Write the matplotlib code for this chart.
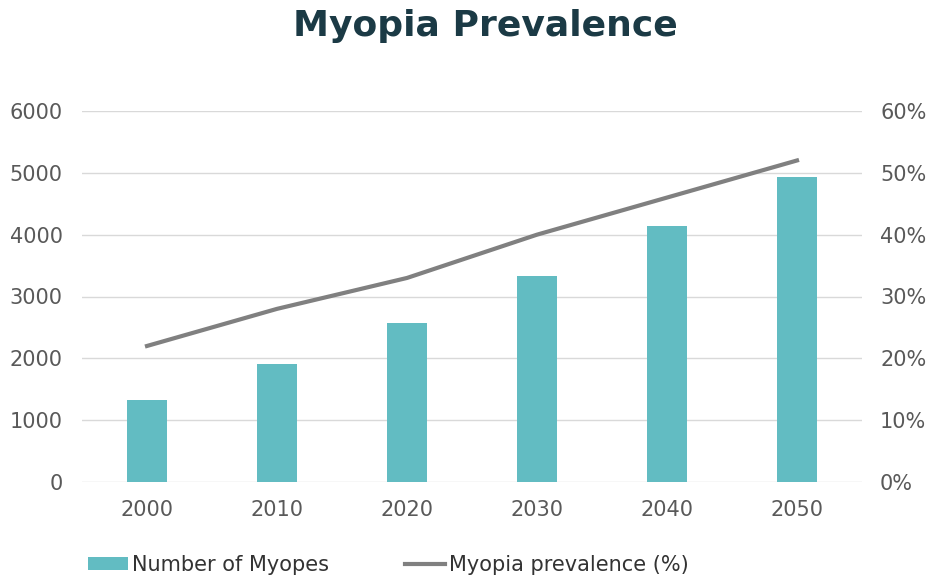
import matplotlib
matplotlib.use("Agg")
import matplotlib.pyplot as plt
from matplotlib.patches import Patch
from matplotlib.lines import Line2D
from matplotlib.ticker import FuncFormatter

years = ["2000", "2010", "2020", "2030", "2040", "2050"]
myopes = [1330, 1905, 2570, 3335, 4145, 4925]
prevalence = [22, 28, 33, 40, 46, 52]
left_ticks = [0, 1000, 2000, 3000, 4000, 5000, 6000]
right_ticks = [0, 10, 20, 30, 40, 50, 60]

bar_color = "#62BCC2"
line_color = "#808080"
tick_color = "#595959"
title_color = "#1B3A45"

plt.rcParams['font.family'] = ['DejaVu Sans']

fig = plt.figure(figsize=(9.34, 5.84), dpi=100)
ax = fig.add_axes([82/934, 1-482/584, (862-82)/934, (482-111)/584])
x = list(range(len(years)))
ax.bar(x, myopes, width=0.31, color=bar_color, zorder=2)
ax.set_xlim(-0.5, len(years)-0.5)
ax.set_ylim(0, 6000)
ax.set_yticks(left_ticks)
ax.set_xticks(x)
ax.set_xticklabels(years)
ax.grid(axis='y', color='#d9d9d9', linewidth=1, zorder=0)
for s in ax.spines.values():
    s.set_visible(False)
ax.tick_params(axis='both', length=0, labelsize=15, colors=tick_color)
ax.tick_params(axis='y', pad=14)
ax.tick_params(axis='x', pad=13)

ax2 = ax.twinx()
ax2.plot(x, prevalence, color=line_color, linewidth=3.0, zorder=3)
ax2.set_ylim(0, 60)
ax2.set_yticks(right_ticks)
ax2.yaxis.set_major_formatter(FuncFormatter(lambda v, p: f"{int(v)}%"))
for s in ax2.spines.values():
    s.set_visible(False)
ax2.tick_params(axis='y', length=0, labelsize=15, colors=tick_color, pad=13)

fig.text(485/934, 1-26/584, "Myopia Prevalence", ha='center', va='center',
         fontsize=26, fontweight='bold', color=title_color)

handles = [Patch(facecolor=bar_color, edgecolor='none'),
           Line2D([0], [0], color=line_color, linewidth=3.0)]
fig.legend(handles, ["Number of Myopes", "Myopia prevalence (%)"],
           loc='center left', bbox_to_anchor=(80/934, 1-565/584), ncol=2,
           frameon=False, fontsize=15, handlelength=1.9, handleheight=0.6,
           handletextpad=0.2, columnspacing=3.65, labelcolor='#333333',
           borderaxespad=0)

fig.savefig("out.png", dpi=100)
